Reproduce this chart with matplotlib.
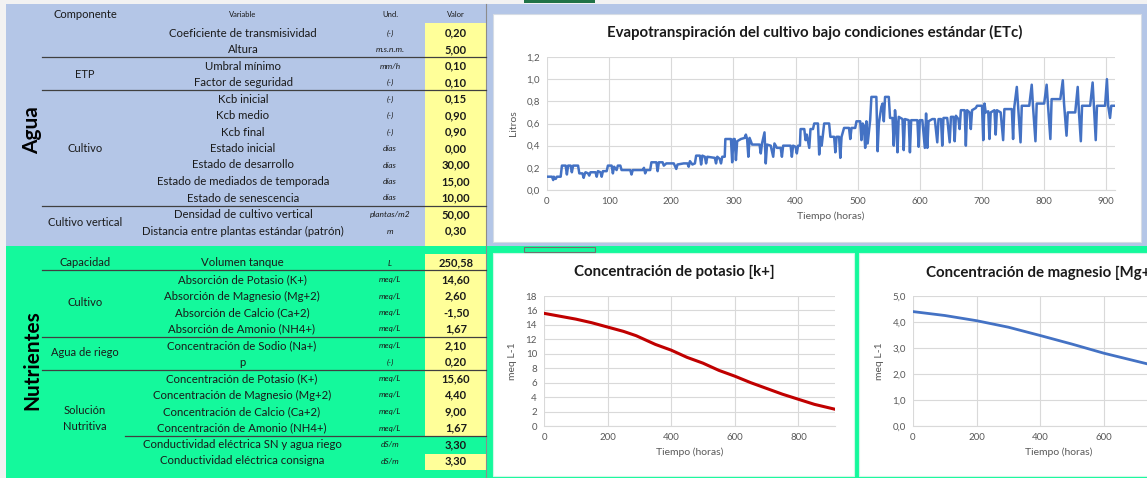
import matplotlib
matplotlib.use("Agg")
import matplotlib.pyplot as plt
from matplotlib.patches import Rectangle
from matplotlib.ticker import FuncFormatter, MultipleLocator, FixedLocator

plt.rcParams['font.family'] = ['Lato', 'DejaVu Sans']

W, H = 1147, 478

# ---------------- table data ----------------
agua_vars = ["Coeficiente de transmisividad", "Altura", "Umbral mínimo", "Factor de seguridad",
             "Kcb inicial", "Kcb medio", "Kcb final", "Estado inicial", "Estado de desarrollo",
             "Estado de mediados de temporada", "Estado de senescencia",
             "Densidad de cultivo vertical", "Distancia entre plantas estándar (patrón)"]
agua_units = ["(-)", "m.s.n.m.", "mm/h", "(-)", "(-)", "(-)", "(-)", "días", "días", "días",
              "días", "plantas/m2", "m"]
agua_vals = ["0,20", "5,00", "0,10", "0,10", "0,15", "0,90", "0,90", "0,00", "30,00", "15,00",
             "10,00", "50,00", "0,30"]
agua_groups = [("ETP", 74), ("Cultivo", 148), ("Cultivo vertical", 222)]

nutr_vars = ["Volumen tanque", "Absorción de Potasio (K+)", "Absorción de Magnesio (Mg+2)",
             "Absorción de Calcio (Ca+2)", "Absorción de Amonio (NH4+)",
             "Concentración de Sodio (Na+)", "p", "Concentración de Potasio (K+)",
             "Concentración de Magnesio (Mg+2)", "Concentración de Calcio (Ca+2)",
             "Concentración de Amonio (NH4+)", "Conductividad eléctrica SN y agua riego",
             "Conductividad eléctrica consigna"]
nutr_units = ["L", "meq/L", "meq/L", "meq/L", "meq/L", "meq/L", "(-)", "meq/L", "meq/L",
              "meq/L", "meq/L", "dS/m", "dS/m"]
nutr_vals = ["250,58", "14,60", "2,60", "-1,50", "1,67", "2,10", "0,20", "15,60", "4,40",
             "9,00", "1,67", "3,30", "3,30"]
nutr_groups = [("Capacidad", 263), ("Cultivo", 303), ("Agua de riego", 353),
               ("Solución", 411), ("Nutritiva", 427)]

# ---------------- chart data ----------------
etc_hours = [0, 8, 10, 11, 14, 16, 22, 24, 30, 32, 34, 38, 40, 42, 50, 52, 57, 59, 61, 62, 66, 68,
             70, 78, 80, 82, 86, 88, 90, 96, 98, 104, 106, 108, 112, 114, 118, 120, 134, 136, 138,
             154, 156, 158, 160, 166, 168, 176, 178, 180, 186, 188, 192, 200, 204, 208, 210, 220,
             226, 228, 230, 234, 238, 240, 246, 248, 250, 254, 256, 258, 270, 272, 274, 278, 280,
             282, 286, 287, 296, 298, 300, 302, 304, 306, 312, 318, 320, 322, 324, 326, 330, 342,
             344, 346, 350, 352, 354, 360, 364, 366, 370, 376, 378, 380, 392, 394, 396, 400, 402,
             404, 407, 408, 414, 416, 418, 420, 422, 424, 428, 430, 436, 438, 440, 442, 446, 454,
             456, 462, 464, 466, 470, 472, 474, 478, 486, 488, 490, 496, 498, 504, 506, 508, 510,
             512, 514, 516, 520, 522, 530, 532, 534, 538, 540, 542, 544, 550, 552, 556, 558, 560,
             562, 564, 566, 572, 574, 576, 582, 584, 586, 596, 598, 600, 604, 608, 610, 612, 614,
             620, 624, 628, 630, 634, 636, 638, 644, 648, 650, 654, 656, 658, 662, 664, 666, 672,
             674, 676, 680, 682, 684, 690, 692, 700, 702, 704, 706, 710, 712, 714, 720, 722, 724,
             730, 734, 736, 748, 750, 752, 756, 758, 762, 764, 776, 780, 782, 786, 788, 800, 804,
             806, 810, 812, 826, 830, 832, 836, 838, 850, 854, 856, 859, 861, 874, 878, 880, 883,
             885, 898, 901, 903, 906, 908, 912]
etc_litros = [0.12, 0.12, 0.09, 0.12, 0.10, 0.12, 0.12, 0.22, 0.22, 0.14, 0.22, 0.22, 0.16, 0.22,
              0.22, 0.15, 0.15, 0.11, 0.15, 0.16, 0.15, 0.13, 0.16, 0.16, 0.12, 0.17, 0.16, 0.12,
              0.17, 0.17, 0.22, 0.22, 0.15, 0.21, 0.18, 0.22, 0.22, 0.18, 0.18, 0.14, 0.18, 0.18,
              0.20, 0.15, 0.18, 0.18, 0.25, 0.25, 0.17, 0.25, 0.25, 0.22, 0.24, 0.24, 0.24, 0.19,
              0.23, 0.24, 0.24, 0.21, 0.26, 0.23, 0.24, 0.31, 0.31, 0.23, 0.31, 0.30, 0.24, 0.30,
              0.29, 0.24, 0.30, 0.28, 0.24, 0.30, 0.30, 0.46, 0.46, 0.25, 0.46, 0.46, 0.27, 0.44,
              0.46, 0.47, 0.50, 0.46, 0.30, 0.47, 0.41, 0.41, 0.33, 0.42, 0.52, 0.24, 0.41, 0.40,
              0.30, 0.42, 0.38, 0.38, 0.30, 0.40, 0.40, 0.30, 0.40, 0.39, 0.33, 0.40, 0.40, 0.55,
              0.55, 0.45, 0.50, 0.44, 0.38, 0.55, 0.55, 0.60, 0.60, 0.32, 0.48, 0.40, 0.60, 0.60,
              0.48, 0.48, 0.34, 0.48, 0.48, 0.29, 0.48, 0.56, 0.56, 0.46, 0.56, 0.56, 0.62, 0.62,
              0.45, 0.60, 0.58, 0.38, 0.62, 0.42, 0.63, 0.84, 0.84, 0.35, 0.60, 0.75, 0.78, 0.62,
              0.84, 0.84, 0.65, 0.65, 0.40, 0.72, 0.60, 0.34, 0.66, 0.64, 0.36, 0.64, 0.63, 0.34,
              0.63, 0.63, 0.39, 0.63, 0.63, 0.38, 0.69, 0.38, 0.62, 0.64, 0.64, 0.43, 0.64, 0.64,
              0.40, 0.65, 0.65, 0.43, 0.66, 0.66, 0.44, 0.67, 0.64, 0.55, 0.72, 0.72, 0.40, 0.72,
              0.70, 0.55, 0.72, 0.74, 0.76, 0.76, 0.45, 0.78, 0.70, 0.71, 0.46, 0.70, 0.72, 0.50,
              0.72, 0.70, 0.45, 0.73, 0.73, 0.46, 0.75, 0.93, 0.76, 0.43, 0.76, 0.76, 0.95, 0.76,
              0.44, 0.78, 0.78, 0.95, 0.78, 0.46, 0.82, 0.82, 0.99, 0.78, 0.49, 0.70, 0.70, 0.93,
              0.70, 0.44, 0.76, 0.76, 0.97, 0.76, 0.45, 0.76, 0.76, 1.00, 0.76, 0.65, 0.76, 0.76]

k_hours = [0, 50, 100, 150, 200, 250, 290, 350, 400, 450, 500, 550, 600, 650, 700, 750, 800, 850, 912]
k_meq = [15.6, 15.2, 14.8, 14.3, 13.7, 13.1, 12.5, 11.3, 10.5, 9.5, 8.7, 7.7, 6.9, 6.0, 5.2, 4.4,
         3.7, 3.0, 2.35]

mg_hours = [0, 100, 200, 300, 400, 500, 600, 700, 800, 912]
mg_meq = [4.4, 4.25, 4.05, 3.8, 3.48, 3.15, 2.8, 2.5, 2.2, 1.9]
mg_xticks = [0, 200, 400, 600]

# ---------------- colours ----------------
BLUE_BG = "#B4C6E7"
GREEN_BG = "#14F99C"
YELLOW = "#FFFF99"
LINE_BLUE = "#4472C4"
LINE_RED = "#C00000"
GRID = "#D9D9D9"
TICK = "#595959"
TXT = "#1a1a1a"

fig = plt.figure(figsize=(W / 100, H / 100), dpi=100)
fig.patch.set_facecolor("#F2F2F2")
bg = fig.add_axes([0, 0, 1, 1])
bg.set_xlim(0, W)
bg.set_ylim(H, 0)
bg.axis("off")


def rect(x0, y0, x1, y1, fc, ec="none", lw=0, z=1):
    bg.add_patch(Rectangle((x0, y0), x1 - x0, y1 - y0, facecolor=fc, edgecolor=ec, linewidth=lw, zorder=z))


def hline(y, x0, x1, color="#404040", lw=0.9):
    bg.plot([x0, x1], [y, y], color=color, lw=lw, zorder=3)


# backgrounds
rect(0, 0, W, 4, "#F2F2F2")
rect(524, 0, 595, 2.5, "#217346", z=2)
rect(6, 4, W, 246, BLUE_BG)
rect(6, 246, W, H, GREEN_BG)
rect(425, 23, 486, 246, YELLOW, z=2)
rect(425, 254, 486, 437, YELLOW, z=2)
rect(425, 454, 486, 470, YELLOW, z=2)
bg.plot([486, 486], [4, H], color="#8c8c8c", lw=0.8, zorder=3)
# chart boxes
rect(493, 14, 1141, 242, "white", ec="#D6DCE5", lw=0.8, z=2)
rect(493, 253, 854, 476, "white", ec="#CFF8E6", lw=0.8, z=2)
rect(859, 253, W + 5, 476, "white", ec="#CFF8E6", lw=0.8, z=2)
rect(524, 246.5, 595, 252, "none", ec="#707070", lw=0.8, z=4)

# table lines
for y in (57, 90, 206):
    hline(y, 42, 486)
for y in (270, 337, 370):
    hline(y, 42, 486)
hline(436, 125, 486)

# headers
bg.text(85, 14, "Componente", ha="center", va="center", fontsize=8, color=TXT, zorder=5)
bg.text(243, 14, "Variable", ha="center", va="center", fontsize=5.5, color=TXT, zorder=5)
bg.text(390, 14, "Und.", ha="center", va="center", fontsize=5.5, color=TXT, zorder=5)
bg.text(456, 14, "Valor", ha="center", va="center", fontsize=5.5, color=TXT, zorder=5)

bg.text(32, 130, "Agua", ha="center", va="center", rotation=90, fontsize=15,
        fontweight="bold", color="black", zorder=5)
bg.text(32, 360, "Nutrientes", ha="center", va="center", rotation=90, fontsize=15,
        fontweight="bold", color="black", zorder=5)

for i, (v, u, val) in enumerate(zip(agua_vars, agua_units, agua_vals)):
    y = 33 + 16.5 * i
    bg.text(243, y, v, ha="center", va="center", fontsize=8.2, color=TXT, zorder=5)
    bg.text(390, y, u, ha="center", va="center", fontsize=6, style="italic", color=TXT, zorder=5)
    bg.text(456, y, val, ha="center", va="center", fontsize=8, fontweight="bold", color=TXT, zorder=5)
for lab, y in agua_groups:
    bg.text(85, y, lab, ha="center", va="center", fontsize=8, color=TXT, zorder=5)

for i, (v, u, val) in enumerate(zip(nutr_vars, nutr_units, nutr_vals)):
    y = 263 + 16.5 * i
    bg.text(242, y, v, ha="center", va="center", fontsize=8.2, color=TXT, zorder=5)
    bg.text(390, y, u, ha="center", va="center", fontsize=6, style="italic", color=TXT, zorder=5)
    bg.text(456, y, val, ha="center", va="center", fontsize=8, fontweight="bold", color=TXT, zorder=5)
for lab, y in nutr_groups:
    bg.text(85, y, lab, ha="center", va="center", fontsize=8, color=TXT, zorder=5)


# ---------------- charts ----------------
def make_axes(x0, x1, y0, y1):
    ax = fig.add_axes([x0 / W, 1 - y1 / H, (x1 - x0) / W, (y1 - y0) / H])
    ax.set_facecolor("none")
    for s in ("top", "right", "left"):
        ax.spines[s].set_visible(False)
    ax.spines["bottom"].set_color(GRID)
    ax.spines["bottom"].set_linewidth(0.8)
    ax.grid(True, color=GRID, lw=0.8)
    ax.set_axisbelow(True)
    ax.tick_params(length=0, labelsize=7, colors=TICK, pad=5)
    return ax


def comma(dec):
    return FuncFormatter(lambda v, p: f"{v:.{dec}f}".replace(".", ","))


# ETc
ax1 = make_axes(547, 1115, 57, 190)
ax1.plot(etc_hours, etc_litros, color=LINE_BLUE, lw=1.8, solid_joinstyle="round")
ax1.set_xlim(0, 914)
ax1.set_ylim(0, 1.2)
ax1.xaxis.set_major_locator(MultipleLocator(100))
ax1.yaxis.set_major_locator(MultipleLocator(0.2))
ax1.yaxis.set_major_formatter(comma(1))
ax1.set_xlabel("Tiempo (horas)", fontsize=7.5, color=TICK, labelpad=4)
ax1.set_ylabel("Litros", fontsize=7.5, color=TICK, labelpad=6)
fig.text(815 / W, 1 - 32 / H, "Evapotranspiración del cultivo bajo condiciones estándar (ETc)",
         ha="center", va="center", fontsize=10.8, fontweight="bold", color=TXT)

# Potasio
ax2 = make_axes(544, 835, 296, 426)
ax2.plot(k_hours, k_meq, color=LINE_RED, lw=2.2)
ax2.set_xlim(0, 915)
ax2.set_ylim(0, 18)
ax2.xaxis.set_major_locator(MultipleLocator(200))
ax2.yaxis.set_major_locator(MultipleLocator(2))
ax2.set_xlabel("Tiempo (horas)", fontsize=7.5, color=TICK, labelpad=4)
ax2.set_ylabel("meq L-1", fontsize=7.5, color=TICK, labelpad=6)
fig.text(674 / W, 1 - 272 / H, "Concentración de potasio [k+]",
         ha="center", va="center", fontsize=10.8, fontweight="bold", color=TXT)

# Magnesio (the chart runs past the right edge of the picture, as in the reference)
ax3 = make_axes(913, 1204, 296, 426)
ax3.plot(mg_hours, mg_meq, color=LINE_BLUE, lw=2)
ax3.set_xlim(0, 915)
ax3.set_ylim(0, 5)
ax3.xaxis.set_major_locator(FixedLocator(mg_xticks))
ax3.yaxis.set_major_locator(MultipleLocator(1))
ax3.yaxis.set_major_formatter(comma(1))
ax3.set_xlabel("Tiempo (horas)", fontsize=7.5, color=TICK, labelpad=4)
ax3.set_ylabel("meq L-1", fontsize=7.5, color=TICK, labelpad=6)
fig.text(1045 / W, 1 - 273 / H, "Concentración de magnesio [Mg+2]",
         ha="center", va="center", fontsize=10.8, fontweight="bold", color=TXT)

fig.savefig("out.png", dpi=100)
